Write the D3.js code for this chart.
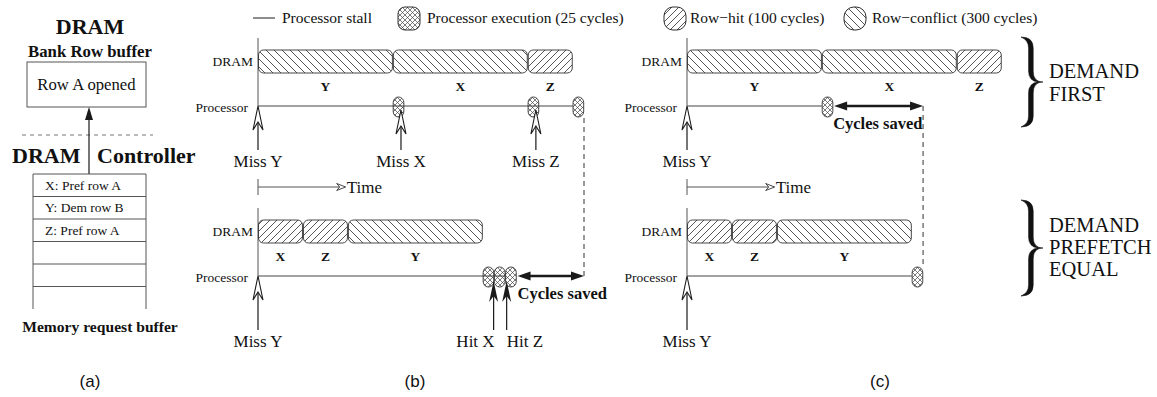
<!DOCTYPE html>
<html>
<head>
<meta charset="utf-8">
<script src="https://cdn.jsdelivr.net/npm/d3@7"></script>
<style>
  body { margin: 0; background: #fff; }
  svg text { font-family: "Liberation Serif", "Times New Roman", serif; fill: #111; }
  svg text.sans { font-family: "Liberation Sans", Arial, sans-serif; }
</style>
</head>
<body>
<div id="chart"></div>
<script>

// ---- data ----
var legendLabels = ["Processor stall", "Processor execution (25 cycles)", "Row\u2212hit (100 cycles)", "Row\u2212conflict (300 cycles)"];
var bufferEntries = ["X: Pref row A", "Y: Dem row B", "Z: Pref row A", "", "", ""];

var execCycles = 25;
var typeNames = ["hit", "conflict"];
var typeCycles = [100, 300];

// DRAM service order for the two policies
var demandFirstReqs = ["Y", "X", "Z"];
var demandFirstTypes = ["conflict", "conflict", "hit"];
var equalReqs = ["X", "Z", "Y"];
var equalTypes = ["hit", "hit", "conflict"];

// processor execution starts (cycles)
var execBTop = [300, 600, 700];
var execBBottom = [500, 525, 550];
var execCTop = [300];
var execCBottom = [500];

// miss / hit arrows (cycles)
var missLabelsB = ["Miss Y", "Miss X", "Miss Z"];
var missTimesB = [0, 318, 618];
var missLabelsC = ["Miss Y"];
var missTimesC = [0];
var hitLabels = ["Hit X", "Hit Z"];
var hitTimes = [524, 553];

// cycles saved spans
var savedB = [575, 725];
var savedC = [325, 525];
var timeArrow = [0, 195];

var W = 1157, H = 397;
var ink = "#1a1a1a", hatchInk = "#444";

var svg = d3.select("#chart").append("svg")
  .attr("width", W)
  .attr("height", H);

// ---- patterns ----
var defs = svg.append("defs");

function hatch(id, size, d, sw) {
  defs.append("pattern")
    .attr("id", id)
    .attr("patternUnits", "userSpaceOnUse")
    .attr("width", size)
    .attr("height", size)
    .append("path")
    .attr("d", d)
    .attr("stroke", hatchInk)
    .attr("stroke-width", sw)
    .attr("fill", "none");
}
// row-conflict "\\\\", row-hit "////", execution crosshatch
hatch("conflict", 8, "M0,0L8,8M-2,6L2,10M6,-2L10,2", 0.9);
hatch("hit", 7, "M0,7L7,0M-2,2L2,-2M5,9L9,5", 0.9);
hatch("exec", 5, "M0,0L5,5M-1,4L1,6M4,-1L6,1M0,5L5,0M-1,1L1,-1M4,6L6,4", 0.7);

function fillFor(type) { return "url(#" + type + ")"; }
function cyclesFor(type) { return typeCycles[typeNames.indexOf(type)]; }

// ---- legend ----
var legend = svg.append("g").attr("class", "legend");
var legendY = 18;
var legendMarkX = [253, 398, 664, 844];
var legendTextX = [282, 427, 690, 872];
var legendMark = [null, "exec", "hit", "conflict"];
var legendRx = [0, 7, 9, 10];

legendLabels.forEach(function(label, i) {
  if (i === 0) {
    legend.append("line")
      .attr("x1", legendMarkX[i]).attr("x2", legendMarkX[i] + 22)
      .attr("y1", legendY).attr("y2", legendY)
      .attr("stroke", ink).attr("stroke-width", 1);
  } else {
    legend.append("rect")
      .attr("x", legendMarkX[i]).attr("y", legendY - 11)
      .attr("width", 22).attr("height", 23)
      .attr("rx", legendRx[i])
      .attr("fill", fillFor(legendMark[i]))
      .attr("stroke", ink).attr("stroke-width", 0.9);
  }
  legend.append("text")
    .attr("x", legendTextX[i])
    .attr("y", legendY + 5)
    .attr("font-size", "15.5px")
    .text(label);
});

// ---- panel (a) ----
var pa = svg.append("g").attr("class", "panel-a");

pa.append("text").attr("x", 90).attr("y", 34)
  .attr("text-anchor", "middle").attr("font-size", "22px").attr("font-weight", "bold")
  .text("DRAM");
pa.append("text").attr("x", 90).attr("y", 57)
  .attr("text-anchor", "middle").attr("font-size", "16.8px").attr("font-weight", "bold")
  .text("Bank Row buffer");
pa.append("rect")
  .attr("x", 27).attr("y", 62).attr("width", 119).attr("height", 45)
  .attr("fill", "none").attr("stroke", "#555").attr("stroke-width", 1);
pa.append("text").attr("x", 86.5).attr("y", 90)
  .attr("text-anchor", "middle").attr("font-size", "16.7px")
  .text("Row A opened");

pa.append("line")
  .attr("x1", 22).attr("x2", 153).attr("y1", 135).attr("y2", 135)
  .attr("stroke", "#777").attr("stroke-dasharray", "4,4");

pa.append("line")
  .attr("x1", 89).attr("x2", 89).attr("y1", 174).attr("y2", 117)
  .attr("stroke", ink).attr("stroke-width", 1.2);
pa.append("path")
  .attr("d", "M89,107L85,120L93,120Z")
  .attr("fill", ink);

pa.append("text").attr("x", 12).attr("y", 163)
  .attr("font-size", "22px").attr("font-weight", "bold").text("DRAM");
pa.append("text").attr("x", 97).attr("y", 163)
  .attr("font-size", "22px").attr("font-weight", "bold").text("Controller");

var rowH = 22.5, bufTop = 174, bufL = 33, bufR = 146;
var bufBottom = bufTop + bufferEntries.length * rowH;

pa.selectAll(".bufline")
  .data(bufferEntries)
  .enter().append("line")
  .attr("class", "bufline")
  .attr("x1", bufL).attr("x2", bufR)
  .attr("y1", function(d, i) { return bufTop + i * rowH; })
  .attr("y2", function(d, i) { return bufTop + i * rowH; })
  .attr("stroke", "#555");
[bufL, bufR].forEach(function(x) {
  pa.append("line")
    .attr("x1", x).attr("x2", x).attr("y1", bufTop).attr("y2", bufBottom)
    .attr("stroke", "#555");
});
pa.selectAll(".bufentry")
  .data(bufferEntries)
  .enter().append("text")
  .attr("class", "bufentry")
  .attr("x", 45)
  .attr("y", function(d, i) { return bufTop + i * rowH + rowH / 2 + 4.5; })
  .attr("font-size", "13.5px")
  .text(function(d) { return d; });

pa.append("text").attr("x", 100).attr("y", 332)
  .attr("text-anchor", "middle").attr("font-size", "15.6px").attr("font-weight", "bold")
  .text("Memory request buffer");

// ---- timelines ----
var barH = 23, ovalW = 11, ovalH = 20;

function segments(reqs, types) {
  var t = 0;
  return reqs.map(function(r, i) {
    var c = cyclesFor(types[i]);
    var s = {req: r, type: types[i], start: t, end: t + c};
    t += c;
    return s;
  });
}

function hollowArrow(g, x, tipY, endY) {
  g.append("line")
    .attr("x1", x).attr("x2", x).attr("y1", tipY + 16).attr("y2", endY)
    .attr("stroke", ink).attr("stroke-width", 1.2);
  g.append("path")
    .attr("d", "M" + x + "," + tipY + "L" + (x - 5) + "," + (tipY + 24) + "L" + x + "," + (tipY + 16) + "L" + (x + 5) + "," + (tipY + 24) + "Z")
    .attr("fill", "#fff").attr("stroke", ink).attr("stroke-width", 1.1);
}

function filledArrow(g, x, tipY, endY) {
  g.append("line")
    .attr("x1", x).attr("x2", x).attr("y1", tipY + 14).attr("y2", endY)
    .attr("stroke", ink).attr("stroke-width", 1.2);
  g.append("path")
    .attr("d", "M" + x + "," + tipY + "L" + (x - 4.5) + "," + (tipY + 21) + "L" + x + "," + (tipY + 15) + "L" + (x + 4.5) + "," + (tipY + 21) + "Z")
    .attr("fill", ink);
}

function doubleArrow(g, x1, x2, y) {
  g.append("line")
    .attr("x1", x1 + 8).attr("x2", x2 - 8).attr("y1", y).attr("y2", y)
    .attr("stroke", ink).attr("stroke-width", 2.4);
  g.append("path")
    .attr("d", "M" + x1 + "," + y + "L" + (x1 + 13) + "," + (y - 4.5) + "L" + (x1 + 13) + "," + (y + 4.5) + "Z")
    .attr("fill", ink);
  g.append("path")
    .attr("d", "M" + x2 + "," + y + "L" + (x2 - 13) + "," + (y - 4.5) + "L" + (x2 - 13) + "," + (y + 4.5) + "Z")
    .attr("fill", ink);
}

// one DRAM + processor row pair
function drawRow(g, xScale, opts) {
  var segs = segments(opts.reqs, opts.types);
  var lastExec = opts.exec[opts.exec.length - 1];

  // time axis
  g.append("line")
    .attr("x1", xScale(0)).attr("x2", xScale(0))
    .attr("y1", opts.axisTop).attr("y2", opts.procY)
    .attr("stroke", "#555").attr("stroke-width", 1);

  g.append("text")
    .attr("x", xScale(0) - 5).attr("y", opts.dramY + barH / 2 + 4.5)
    .attr("text-anchor", "end").attr("font-size", "13.5px")
    .text("DRAM");
  g.append("text")
    .attr("x", xScale(0) - 10).attr("y", opts.procY + 6)
    .attr("text-anchor", "end").attr("font-size", "13.5px")
    .text("Processor");

  g.selectAll(".seg")
    .data(segs)
    .enter().append("rect")
    .attr("class", "seg")
    .attr("x", function(d) { return xScale(d.start) + 0.5; })
    .attr("y", opts.dramY)
    .attr("width", function(d) { return xScale(d.end) - xScale(d.start) - 1; })
    .attr("height", barH)
    .attr("rx", 5)
    .attr("fill", function(d) { return fillFor(d.type); })
    .attr("stroke", "#333").attr("stroke-width", 0.9);

  g.selectAll(".seglabel")
    .data(segs)
    .enter().append("text")
    .attr("class", "seglabel")
    .attr("x", function(d) { return (xScale(d.start) + xScale(d.end)) / 2; })
    .attr("y", opts.dramY + barH + 18)
    .attr("text-anchor", "middle")
    .attr("font-size", "13.5px").attr("font-weight", "bold")
    .text(function(d) { return d.req; });

  // processor stall line
  g.append("line")
    .attr("x1", xScale(0)).attr("x2", xScale(lastExec))
    .attr("y1", opts.procY).attr("y2", opts.procY)
    .attr("stroke", "#444").attr("stroke-width", 1);

  g.selectAll(".exec")
    .data(opts.exec)
    .enter().append("rect")
    .attr("class", "exec")
    .attr("x", function(d) { return xScale(d) + 0.3; })
    .attr("y", opts.procY + 1 - ovalH / 2)
    .attr("width", function(d) { return xScale(d + execCycles) - xScale(d) - 0.6; })
    .attr("height", ovalH)
    .attr("rx", 5.5)
    .attr("fill", "url(#exec)")
    .attr("stroke", "#333").attr("stroke-width", 0.9);

  // misses
  opts.missTimes.forEach(function(t, i) {
    var x = xScale(t);
    var tip = t === 0 ? opts.procY : opts.procY + 4;
    hollowArrow(g, x, tip, opts.arrowEnd);
    g.append("text")
      .attr("x", x).attr("y", opts.arrowEnd + 17)
      .attr("text-anchor", "middle").attr("font-size", "17px")
      .text(opts.missLabels[i]);
  });
}

// TeX-like right brace: thin ends, thick arms, pointed middle
function brace(x0, x1, y0, y1) {
  var xm = x0 + (x1 - x0) * 0.45, ym = (y0 + y1) / 2, r = 11, t = 2.3;
  var d = "M" + x0 + "," + y0 +
    "Q" + (xm + t) + "," + y0 + " " + (xm + t) + "," + (y0 + r) +
    "L" + (xm + t) + "," + (ym - r) +
    "Q" + (xm + t) + "," + ym + " " + x1 + "," + ym +
    "Q" + (xm + t) + "," + ym + " " + (xm + t) + "," + (ym + r) +
    "L" + (xm + t) + "," + (y1 - r) +
    "Q" + (xm + t) + "," + y1 + " " + x0 + "," + y1 +
    "Q" + (xm - t) + "," + (y1 - 3) + " " + (xm - t) + "," + (y1 - r) +
    "L" + (xm - t) + "," + (ym + r) +
    "Q" + (xm - t) + "," + (ym + 1) + " " + (x1 - 5) + "," + ym +
    "Q" + (xm - t) + "," + (ym - 1) + " " + (xm - t) + "," + (ym - r) +
    "L" + (xm - t) + "," + (y0 + r) +
    "Q" + (xm - t) + "," + (y0 + 3) + " " + x0 + "," + y0 + "Z";
  svg.append("path")
    .attr("d", d)
    .attr("fill", "#111").attr("stroke", "#111").attr("stroke-width", 0.6);
}

var pxPerCycle = 326 / 725;
var topRow = {axisTop: 38, dramY: 50, procY: 106, arrowEnd: 150};
var botRow = {axisTop: 208, dramY: 220, procY: 276, arrowEnd: 330};

// ---- panel (b) ----
var xB = d3.scaleLinear().domain([0, 725]).range([258, 258 + 725 * pxPerCycle]);
var pb = svg.append("g").attr("class", "panel-b");

drawRow(pb.append("g"), xB, Object.assign({reqs: demandFirstReqs, types: demandFirstTypes, exec: execBTop,
  missTimes: missTimesB, missLabels: missLabelsB}, topRow));
drawRow(pb.append("g"), xB, Object.assign({reqs: equalReqs, types: equalTypes, exec: execBBottom,
  missTimes: [0], missLabels: ["Miss Y"]}, botRow));

hitTimes.forEach(function(t, i) {
  var x = xB(t);
  filledArrow(pb, x, botRow.procY + 5, botRow.arrowEnd);
  pb.append("text")
    .attr("x", i === 0 ? x + 1 : x)
    .attr("y", botRow.arrowEnd + 17)
    .attr("text-anchor", i === 0 ? "end" : "start")
    .attr("font-size", "17px")
    .text(hitLabels[i]);
});

doubleArrow(pb, xB(savedB[0]) + 1, xB(savedB[1]), botRow.procY);
pb.append("text")
  .attr("x", xB(savedB[0]) + 1).attr("y", botRow.procY + 23)
  .attr("font-size", "16.5px").attr("font-weight", "bold")
  .text("Cycles saved");
pb.append("line")
  .attr("x1", xB(savedB[1])).attr("x2", xB(savedB[1]))
  .attr("y1", topRow.procY + 12).attr("y2", botRow.procY)
  .attr("stroke", "#333").attr("stroke-dasharray", "5,4");

// ---- panel (c) ----
var xC = d3.scaleLinear().domain([0, 725]).range([687, 687 + 725 * pxPerCycle]);
var pc = svg.append("g").attr("class", "panel-c");

drawRow(pc.append("g"), xC, Object.assign({reqs: demandFirstReqs, types: demandFirstTypes, exec: execCTop,
  missTimes: missTimesC, missLabels: missLabelsC}, topRow));
drawRow(pc.append("g"), xC, Object.assign({reqs: equalReqs, types: equalTypes, exec: execCBottom,
  missTimes: missTimesC, missLabels: missLabelsC}, botRow));

doubleArrow(pc, xC(savedC[0]) + 1, xC(savedC[1]), topRow.procY);
pc.append("text")
  .attr("x", xC(savedC[0])).attr("y", topRow.procY + 23)
  .attr("font-size", "16.5px").attr("font-weight", "bold")
  .text("Cycles saved");
pc.append("line")
  .attr("x1", xC(savedC[1])).attr("x2", xC(savedC[1]))
  .attr("y1", topRow.procY).attr("y2", botRow.procY - 10)
  .attr("stroke", "#333").attr("stroke-dasharray", "5,4");

// time arrows under the top rows
[xB, xC].forEach(function(x) {
  var y = 187, x1 = x(timeArrow[0]), x2 = x(timeArrow[1]);
  svg.append("line").attr("x1", x1).attr("x2", x1).attr("y1", y - 8).attr("y2", y + 8)
    .attr("stroke", "#555");
  svg.append("line").attr("x1", x1).attr("x2", x2 - 4).attr("y1", y).attr("y2", y)
    .attr("stroke", "#555");
  svg.append("path")
    .attr("d", "M" + x2 + "," + y + "L" + (x2 - 9) + "," + (y - 3.5) + "L" + (x2 - 6) + "," + y + "L" + (x2 - 9) + "," + (y + 3.5) + "Z")
    .attr("fill", "#fff").attr("stroke", "#333").attr("stroke-width", 0.9);
  svg.append("text").attr("x", x2 + 1).attr("y", y + 6)
    .attr("font-size", "17px").text("Time");
});

// ---- braces ----
brace(1021, 1043, 37, 127);
brace(1021, 1043, 200, 296);
var braceText = svg.append("g").attr("font-size", "20.5px");
braceText.append("text").attr("x", 1049).attr("y", 78).text("DEMAND");
braceText.append("text").attr("x", 1049).attr("y", 101).text("FIRST");
braceText.append("text").attr("x", 1049).attr("y", 232).text("DEMAND");
braceText.append("text").attr("x", 1049).attr("y", 254).text("PREFETCH");
braceText.append("text").attr("x", 1049).attr("y", 276).text("EQUAL");

// ---- panel captions ----
[["(a)", 90], ["(b)", 415], ["(c)", 880]].forEach(function(c) {
  svg.append("text")
    .attr("class", "sans")
    .attr("x", c[1]).attr("y", 387)
    .attr("text-anchor", "middle").attr("font-size", "17px")
    .text(c[0]);
});

</script>
</body>
</html>
